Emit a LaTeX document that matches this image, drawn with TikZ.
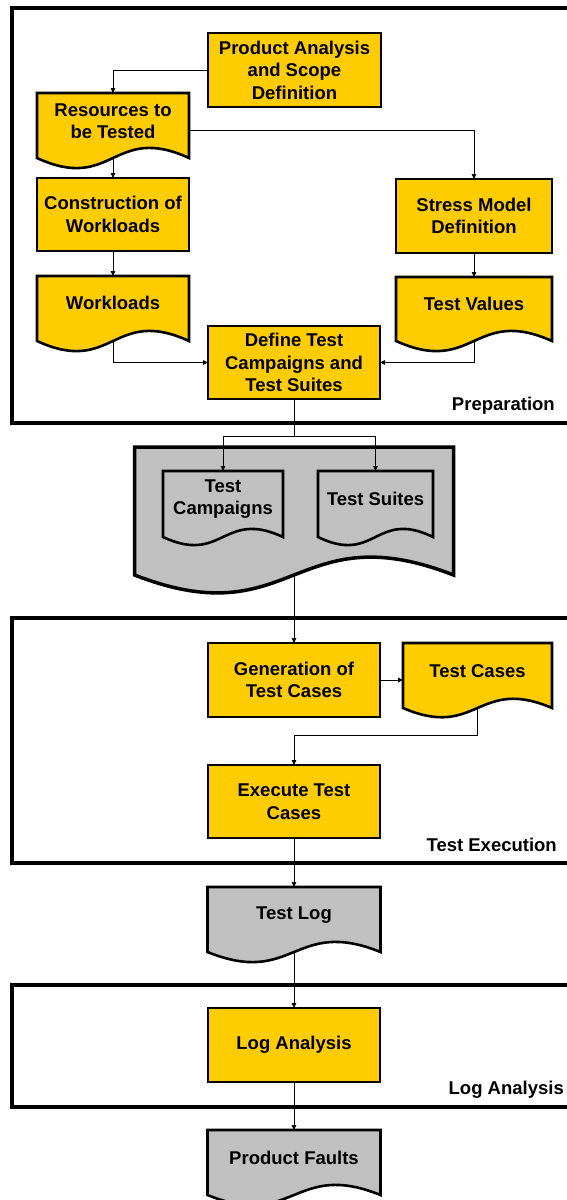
\documentclass[tikz,border=0pt]{standalone}
\usepackage{fontspec}
\setmainfont{Liberation Sans}
\usetikzlibrary{arrows.meta,calc}
\pgfdeclarelayer{bg}
\pgfsetlayers{bg,main}
\definecolor{stepgold}{HTML}{FFCC00}
\definecolor{docgray}{HTML}{C0C0C0}
\newcommand\labelfont{\bfseries\fontsize{18.5}{22.5}\selectfont}

\tikzset{
  frame/.style={line width=4pt},
  procbox/.style={draw, line width=2.6pt, fill=stepgold, inner sep=0pt, outer sep=0pt,
    font=\labelfont, align=center},
  doctext/.style={inner sep=0pt, outer sep=0pt, font=\labelfont, align=center},
  docyellow/.style={draw, line width=2.6pt, fill=stepgold},
  docgrey/.style={draw, line width=2.6pt, fill=docgray},
  conn/.style={line width=0.9pt, -{Triangle[length=5pt,width=4.5pt]}},
  plain/.style={line width=0.9pt},
  phase/.style={font=\labelfont, anchor=base east, inner sep=0pt},
}

% document symbol: #1 outline style, #2 name, #3 centre of text area,
% #4 width, #5 text-area height, #6 extra drop of the sides, #7 wave depth, #8 text
\newcommand\docbox[8][]{%
  \node[doctext, minimum width=#4pt, minimum height=#5pt] (#2) at (#3) {#8};
  \coordinate (#2-foot) at ($(#2.south)+(0,#6)$);
  \begin{pgfonlayer}{bg}
    \draw[#1] (#2.north west) -- (#2.north east) -- ($(#2.south east)+(0,#6)$)
      .. controls ($(#2-foot)+(0,-#7)$) and ($(#2-foot)+(0,#7)$) ..
      ($(#2.south west)+(0,#6)$) -- cycle;
  \end{pgfonlayer}%
}

\begin{document}
\begin{tikzpicture}[x=1pt,y=-1pt]
\useasboundingbox (0,0) rectangle (567,1200);
\clip (0,0) rectangle (567,1200);

% phase frames
\draw[frame] (12,8) rectangle (600,423);
\draw[frame] (12,618) rectangle (600,863);
\draw[frame] (12,985) rectangle (600,1107);
\node[phase] (prep) at (555,410) {Preparation};
\node[phase] (exe) at (557,851) {Test Execution};
\node[phase] (logphase) at (564,1094) {Log Analysis};

% preparation
\node[procbox, minimum width=173pt, minimum height=74pt] (pa) at (294.5,70) {Product Analysis\\and Scope\\Definition};
\docbox[docyellow]{res}{113,121}{152}{56}{9}{35}{Resources to\\be Tested}
\node[procbox, minimum width=152pt, minimum height=73pt] (constr) at (113,214.5) {Construction of\\Workloads};
\docbox[docyellow]{work}{113,303}{152}{54}{11}{35}{Workloads}
\node[procbox, minimum width=156pt, minimum height=74pt] (stress) at (474,216) {Stress Model\\Definition};
\docbox[docyellow]{tval}{474,304}{156}{54}{10}{35}{Test Values}
\node[procbox, minimum width=172pt, minimum height=73pt] (define) at (294,362.5) {Define Test\\Campaigns and\\Test Suites};

% test plan store
\docbox[docgrey, line width=3.5pt]{store}{294,511}{319}{128}{0}{62}{}
\docbox[docgrey]{tcamp}{223,499}{120}{56}{10}{28}{Test\\Campaigns}
\docbox[docgrey]{tsuite}{375.5,499}{115}{56}{10}{28}{Test Suites}

% execution
\node[procbox, minimum width=172pt, minimum height=74pt] (gen) at (294,680) {Generation of\\Test Cases};
\docbox[docyellow]{tcases}{477.5,671}{149}{56}{9}{32}{Test Cases}
\node[procbox, minimum width=172pt, minimum height=73pt] (exec) at (294,801.5) {Execute Test\\Cases};
\docbox[docgrey]{tlog}{294,915}{173}{56}{9}{35}{Test Log}

% analysis
\node[procbox, minimum width=172pt, minimum height=74pt] (loga) at (294,1045) {Log Analysis};
\docbox[docgrey]{faults}{294,1158}{173}{56}{9}{35}{Product Faults}

% connectors
\draw[conn] (pa.west) -| (res.north);
\draw[conn] ([yshift=-9pt]res.east) -| (stress.north);
\draw[conn] (res-foot) -- (constr.north);
\draw[conn] (constr.south) -- (work.north);
\draw[conn] (work-foot) |- (define.west);
\draw[conn] (stress.south) -- (tval.north);
\draw[conn] (tval-foot) |- (define.east);
\coordinate (fork) at (294,436);
\draw[plain] (define.south) -- (fork);
\draw[conn] (fork) -| (tcamp.north);
\draw[conn] (fork) -| (tsuite.north);
\draw[conn] (store-foot) -- (gen.north);
\draw[conn] (gen.east) -- (gen.east -| tcases.west);
\draw[conn] (tcases-foot) -- ++(0,27) -| (exec.north);
\draw[conn] (exec.south) -- (tlog.north);
\draw[conn] (tlog-foot) -- (loga.north);
\draw[conn] (loga.south) -- (faults.north);
\end{tikzpicture}
\end{document}
